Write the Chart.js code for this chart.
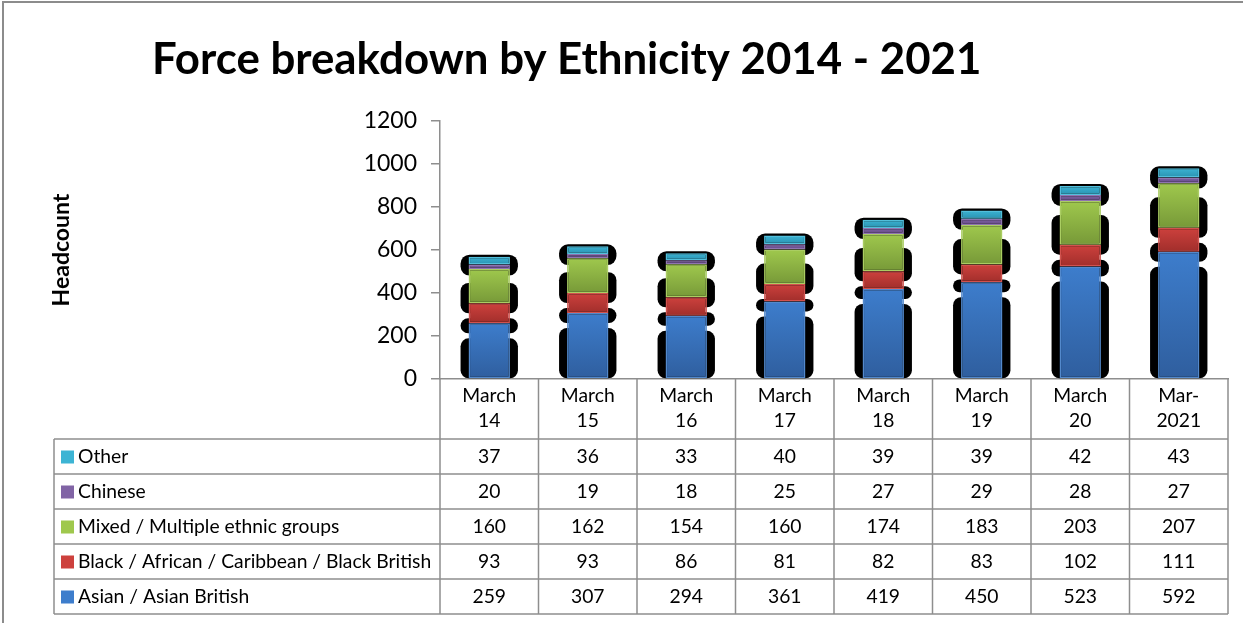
<!DOCTYPE html>
<html>
<head>
<meta charset="utf-8">
<script src="https://cdn.jsdelivr.net/npm/chart.js@4.4.1/dist/chart.umd.min.js"></script>
<style>
  html, body { margin: 0; padding: 0; background: #fff; overflow: hidden; }
  #wrap { position: relative; width: 1243px; height: 623px; }
  #frame { position: absolute; left: 2px; top: 1px; width: 1260px; height: 640px;
           border-left: 2px solid #8c8c8c; border-top: 2px solid #8c8c8c; pointer-events: none; }
</style>
</head>
<body>
<div id="wrap">
  <canvas id="c" width="1243" height="623"></canvas>
  <div id="frame"></div>
</div>
<script>
const categories = [['March', '14'], ['March', '15'], ['March', '16'], ['March', '17'],
                    ['March', '18'], ['March', '19'], ['March', '20'], ['Mar-', '2021']];
const asian   = [259, 307, 294, 361, 419, 450, 523, 592];
const black   = [93, 93, 86, 81, 82, 83, 102, 111];
const mixed   = [160, 162, 154, 160, 174, 183, 203, 207];
const chinese = [20, 19, 18, 25, 27, 29, 28, 27];
const other   = [37, 36, 33, 40, 39, 39, 42, 43];
const seriesNames = ['Asian / Asian British', 'Black / African / Caribbean / Black British',
                     'Mixed / Multiple ethnic groups', 'Chinese', 'Other'];
const yTicks = [0, 200, 400, 600, 800, 1000, 1200];

const stack = [asian, black, mixed, chinese, other];   // bottom -> top
const FONT = 'Lato, "Open Sans", sans-serif';

// colours: [top of gradient, bottom of gradient, outline]
const colours = [
  ['#3d7dcc', '#2f5e9e', '#5389cc'],
  ['#cd413d', '#a12e2b', '#d2524e'],
  ['#9fc84d', '#779938', '#aacd62'],
  ['#8164a5', '#634886', '#8f74b0'],
  ['#3cb4d4', '#2a92b0', '#52bfdb']
];
// black "glow" behind each segment (Excel render artefact): offsets from top / base
const shadowStyle = [
  { top: 15, bottom: 0, spread: 8, radius: 8 },
  { top: 15, bottom: 10, spread: 8, radius: 8 },
  { top: 14, bottom: 10, spread: 8, radius: 8 },
  null,
  { top: -2, bottom: 11, spread: 8, radius: 9 }
];

function gradientFor(di) {
  return ctx => {
    const [c0, c1] = colours[di];
    const y = ctx.chart.scales.y;
    if (ctx.type !== 'data' || !y) return c0;
    const i = ctx.dataIndex;
    let base = 0;
    for (let k = 0; k < di; k++) base += stack[k][i];
    const y0 = y.getPixelForValue(base + stack[di][i]);
    const y1 = y.getPixelForValue(base);
    if (!isFinite(y0) || !isFinite(y1) || y0 === y1) return c0;
    const g = ctx.chart.ctx.createLinearGradient(0, y0, 0, y1);
    g.addColorStop(0, c0);
    g.addColorStop(1, c1);
    return g;
  };
}

const shadowPlugin = {
  id: 'shadows',
  beforeDatasetsDraw(chart) {
    const c = chart.ctx, area = chart.chartArea;
    c.save();
    c.beginPath();
    c.rect(area.left, area.top - 30, area.right - area.left, area.bottom - area.top + 30);
    c.clip();
    c.fillStyle = '#000';
    chart.data.datasets.forEach((ds, di) => {
      const sh = shadowStyle[di];
      if (!sh) return;
      chart.getDatasetMeta(di).data.forEach(el => {
        const { x, y, base, width } = el.getProps(['x', 'y', 'base', 'width'], true);
        const top = y + sh.top, bot = base + sh.bottom;
        if (bot - top <= 2) return;
        c.beginPath();
        c.roundRect(x - width / 2 - sh.spread, top, width + 2 * sh.spread, bot - top,
                    Math.min(sh.radius, (bot - top) / 2));
        c.fill();
      });
    });
    c.restore();
  }
};

const tablePlugin = {
  id: 'dataTable',
  afterDraw(chart) {
    const c = chart.ctx, xs = chart.scales.x, area = chart.chartArea;
    const n = categories.length;
    const colW = (area.right - area.left) / n;
    const headTop = area.bottom, headBot = headTop + 60, rowH = 35, tableLeft = 54;
    const rows = [4, 3, 2, 1, 0];   // table lists top series first
    const bottom = headBot + rows.length * rowH;

    c.save();
    c.strokeStyle = '#8e8e8e';
    c.lineWidth = 1.5;
    const line = (x1, y1, x2, y2) => { c.beginPath(); c.moveTo(x1, y1); c.lineTo(x2, y2); c.stroke(); };
    for (let r = 0; r <= rows.length; r++) line(tableLeft, headBot + r * rowH, area.right, headBot + r * rowH);
    for (let k = 0; k <= n; k++) line(area.left + k * colW, headTop, area.left + k * colW, bottom);
    line(tableLeft, headBot, tableLeft, bottom);

    c.fillStyle = '#000';
    c.font = '19.3px ' + FONT;
    c.textAlign = 'center';
    c.textBaseline = 'middle';
    categories.forEach((lab, i) => {
      const cx = xs.getPixelForValue(i);
      c.fillText(lab[0], cx, headTop + 17);
      c.fillText(lab[1], cx, headTop + 42);
    });
    rows.forEach((di, r) => {
      const cy = headBot + r * rowH + rowH / 2;
      stack[di].forEach((v, i) => c.fillText(String(v), xs.getPixelForValue(i), cy));
      c.fillStyle = colours[di][0];
      c.fillRect(61, cy - 6, 13, 13);
      c.fillStyle = '#000';
      c.textAlign = 'left';
      c.fillText(seriesNames[di], 78, cy);
      c.textAlign = 'center';
    });

    // chart title
    c.font = 'bold 43.8px ' + FONT;
    c.textAlign = 'left';
    c.textBaseline = 'alphabetic';
    c.fillText('Force breakdown by Ethnicity 2014 - 2021', 152, 74);
    c.restore();
  }
};

new Chart(document.getElementById('c'), {
  type: 'bar',
  data: {
    labels: categories.map(l => l.join(' ')),
    datasets: stack.map((vals, di) => ({
      label: seriesNames[di],
      data: vals,
      backgroundColor: gradientFor(di),
      borderColor: colours[di][2],
      borderWidth: 1.5,
      borderSkipped: false,
      barPercentage: 0.42,
      categoryPercentage: 1
    }))
  },
  options: {
    responsive: false,
    animation: false,
    layout: { padding: { left: 40, right: 15, top: 121, bottom: 244 } },
    plugins: {
      legend: { display: false },
      tooltip: { enabled: false },
      title: { display: false }
    },
    scales: {
      x: {
        stacked: true,
        grid: { display: false },
        border: { display: true, color: '#8e8e8e', width: 1.5 },
        ticks: { display: false },
        afterFit: s => { s.height = 0; }
      },
      y: {
        stacked: true,
        min: 0,
        max: 1200,
        afterBuildTicks: s => { s.ticks = yTicks.map(v => ({ value: v })); },
        afterFit: s => { s.width = 400; },
        grid: { drawOnChartArea: false, drawTicks: true, tickLength: 9, color: '#8e8e8e', lineWidth: 1.5 },
        border: { display: true, color: '#8e8e8e', width: 1.5 },
        ticks: { color: '#000', font: { family: FONT, size: 23 }, padding: 14, callback: v => String(v) },
        title: {
          display: true,
          text: 'Headcount',
          color: '#000',
          font: { family: FONT, size: 23, weight: 'bold' },
          padding: { top: 8, bottom: 0 }
        }
      }
    }
  },
  plugins: [shadowPlugin, tablePlugin]
});
</script>
</body>
</html>
